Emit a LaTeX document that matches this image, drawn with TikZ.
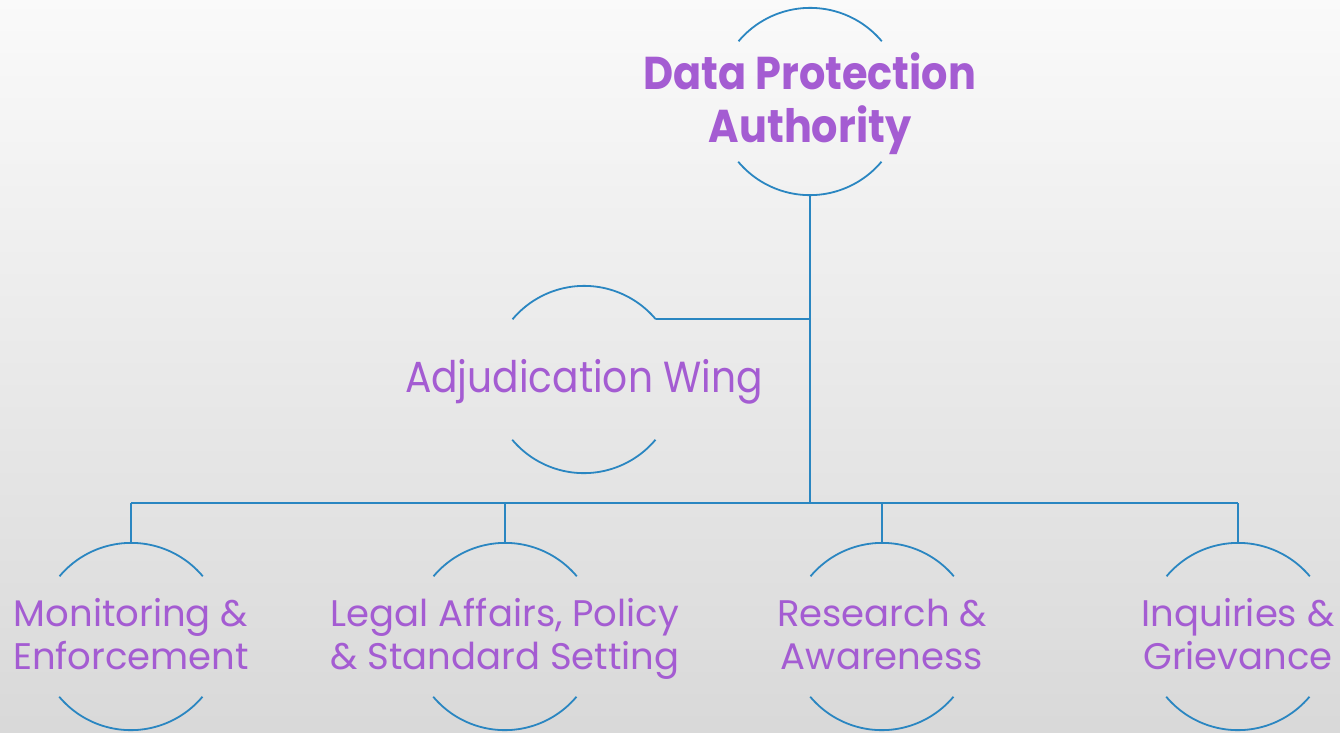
\documentclass[tikz,border=0pt]{standalone}
\usepackage{fontspec}
\setmainfont{Poppins}
\newfontfamily\narrowpop{Poppins}[FakeStretch=0.9]
\definecolor{linkblue}{HTML}{2A86C1}
\definecolor{labelpurple}{HTML}{A45CD2}
\begin{document}
\begin{tikzpicture}[x=1pt,y=1pt,
  unitnode/.style={circle,minimum size=187pt,inner sep=0pt},
  unittext/.style={text=labelpurple,align=center,inner sep=0pt},
  smalltext/.style={unittext,font=\fontsize{37}{43}\selectfont,yshift=-3pt},
  link/.style={draw=linkblue,line width=1.8pt}]
\shade[top color=black!2, bottom color=black!15] (0,0) rectangle (1340,-732);
\useasboundingbox (0,0) rectangle (1340,-732);
% circles
\node[unitnode] (dpa) at (810,-101.5) {};
\node[unitnode] (adj) at (584,-379.5) {};
\node[unitnode] (mon) at (131,-636.5) {};
\node[unitnode] (leg) at (505,-636.5) {};
\node[unitnode] (res) at (882,-636.5) {};
\node[unitnode] (inq) at (1238,-636.5) {};
% texts
\node[unittext,font=\narrowpop\bfseries\fontsize{46}{50}\selectfont,yshift=-3.5pt] (dpat) at (dpa) {\strut Data Protection\\Authority\strut};
\node[unittext,font=\narrowpop\fontsize{43.5}{50}\selectfont,yshift=-2.5pt] (adjt) at (adj) {\strut Adjudication Wing\strut};
\node[smalltext] (mont) at (mon) {\strut Monitoring \&\\Enforcement\strut};
\node[smalltext] (legt) at (leg) {\strut Legal Affairs, Policy\\\& Standard Setting\strut};
\node[smalltext] (rest) at (res) {\strut Research \&\\Awareness\strut};
\node[smalltext] (inqt) at (inq) {\strut Inquiries \&\\Grievance\strut};
% arcs
\foreach \n in {dpa,adj,mon,leg,res,inq}{
  \draw[link] (\n.40) arc[start angle=40,end angle=140,radius=93.5pt];
  \draw[link] (\n.220) arc[start angle=220,end angle=320,radius=93.5pt];
}
% connectors
\coordinate (bus) at (810,-503);
\draw[link] (dpa.south) -- (bus);
\draw[link] (adj.40) -- (adj.40 -| dpa.south);
\draw[link] (mon.north |- bus) -- (inq.north |- bus);
\foreach \n in {mon,leg,res,inq}{
  \draw[link] (\n.north) -- (\n.north |- bus);
}
\end{tikzpicture}
\end{document}
